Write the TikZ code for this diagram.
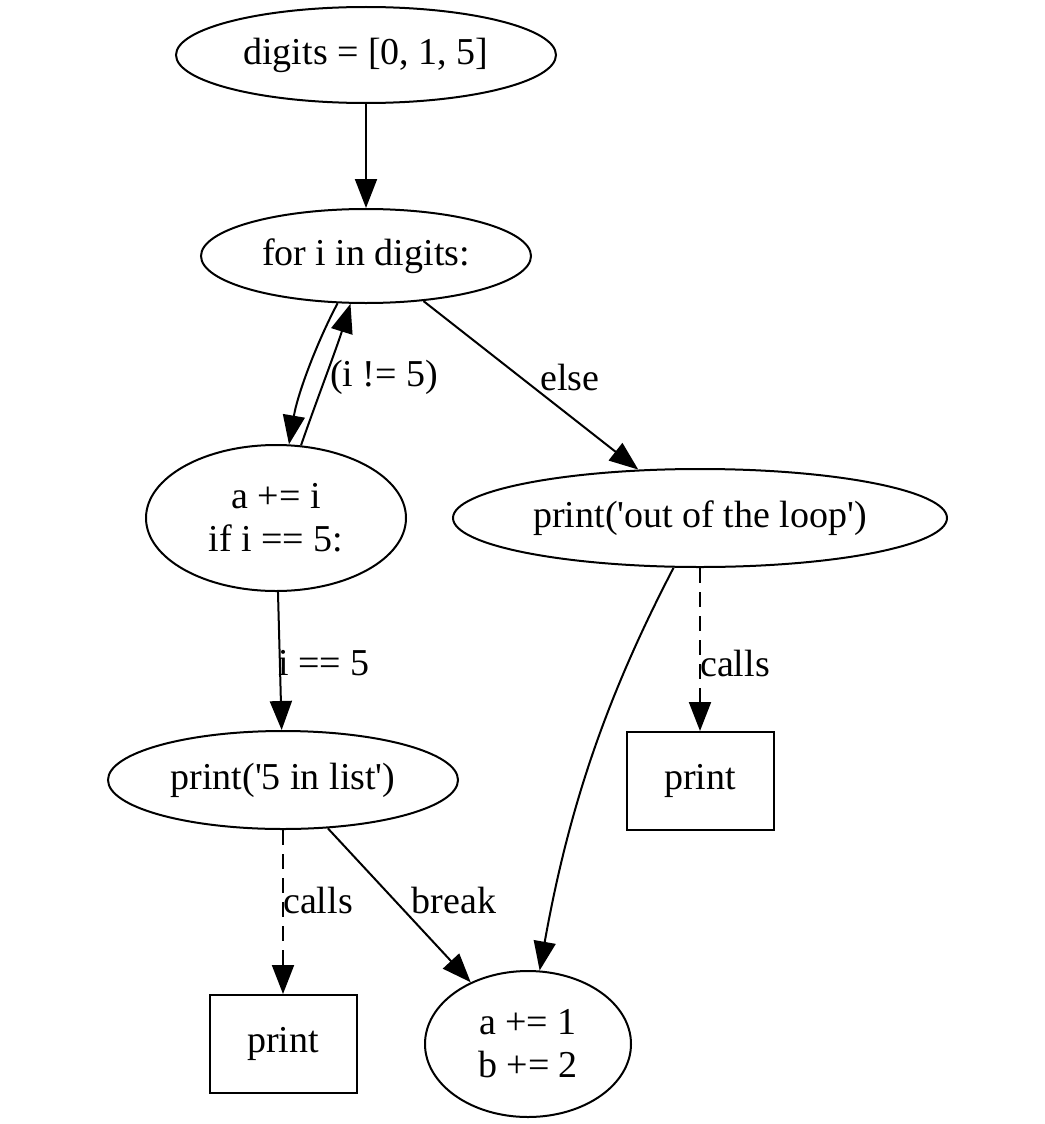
\documentclass[tikz,border=0pt]{standalone}
\usepackage{fontspec}
\setmainfont{Liberation Serif}
\usetikzlibrary{shapes.geometric,arrows.meta}
\begin{document}
\begin{tikzpicture}[x=1pt,y=-1pt,
  every node/.style={font=\fontsize{38}{43}\selectfont},
  ell/.style={draw, ellipse, line width=2pt, inner xsep=-30pt, inner ysep=-10pt, align=center},
  box/.style={draw, rectangle, line width=2pt, minimum width=147pt, minimum height=98pt, inner sep=0pt},
  lbl/.style={inner sep=0pt},
  edge/.style={line width=2pt, -{Triangle[length=29pt,width=22pt]}},
  dedge/.style={edge, dash pattern=on 15pt off 9pt}]
\useasboundingbox (0,0) rectangle (1044,1124);
\node[ell, minimum width=380pt, minimum height=96pt] (n1) at (366,55) {digits = [0, 1, 5]};
\node[ell, minimum width=330pt, minimum height=94pt] (n2) at (366,256) {for i in digits:};
\node[ell, minimum width=260pt, minimum height=146pt] (n3) at (276,518) {a += i\\if i == 5:};
\node[ell, minimum width=494pt, minimum height=98pt] (n4) at (700,518) {print(\textquotesingle out of the loop\textquotesingle)};
\node[ell, minimum width=350pt, minimum height=98pt] (n5) at (283,780) {print(\textquotesingle 5 in list\textquotesingle)};
\node[box] (n6) at (700,781) {print};
\node[box] (n7) at (283,1044) {print};
\node[ell, minimum width=206pt, minimum height=146pt] (n8) at (528,1044) {a += 1\\b += 2};

\draw[edge] (n1) -- (n2);
\draw[edge] (n2.239) .. controls (318,340) and (298,392) .. (n3.80);
\draw[edge] (n3.71) .. controls (316,402) and (336,350) .. (n2.252);
\draw[edge] (n2) -- (n4);
\draw[edge] (n3) -- (n5);
\draw[dedge] (n4) -- (n6);
\draw[edge] (n4.242) .. controls (610,690) and (570,800) .. (n8.81);
\draw[dedge] (n5) -- (n7);
\draw[edge] (n5) -- (n8);

\node[lbl] (l1) at (384,377) {(i != 5)};
\node[lbl] (l2) at (570,377) {else};
\node[lbl] (l3) at (324,663) {i == 5};
\node[lbl] (l4) at (735,663) {calls};
\node[lbl] (l5) at (318,900) {calls};
\node[lbl] (l6) at (454,900) {break};
\end{tikzpicture}
\end{document}
